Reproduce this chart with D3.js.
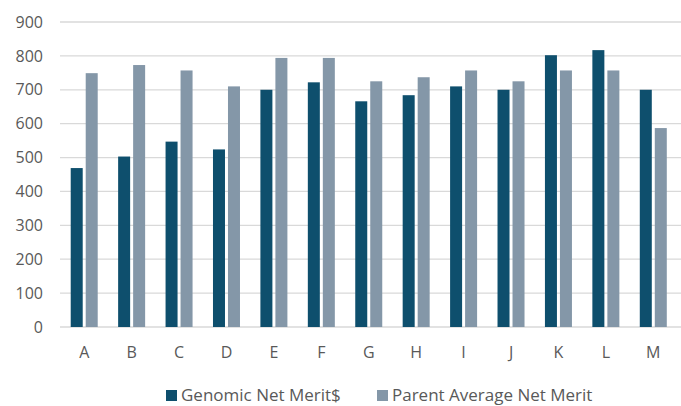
<!DOCTYPE html>
<html>
<head>
<meta charset="utf-8">
<script src="https://cdn.jsdelivr.net/npm/d3@7"></script>
<style>
  body { margin: 0; background: #fff; }
  text { font-family: "Open Sans", "Noto Sans", sans-serif; fill: #595959; }
</style>
</head>
<body>
<div id="chart"></div>
<script>
const categories = ["A", "B", "C", "D", "E", "F", "G", "H", "I", "J", "K", "L", "M"];
const seriesNames = ["Genomic Net Merit$", "Parent Average Net Merit"];
const genomic = [469, 503, 547, 524, 700, 722, 666, 684, 710, 700, 802, 817, 700];
const parentAvg = [749, 773, 757, 710, 794, 794, 725, 737, 757, 725, 757, 757, 587];
const yTicks = [0, 100, 200, 300, 400, 500, 600, 700, 800, 900];
const colors = ["#0e4f6d", "#8497a8"];

const width = 681, height = 406;
const svg = d3.select("#chart").append("svg")
    .attr("width", width)
    .attr("height", height);

// scales
const x = d3.scaleBand().domain(categories).range([60.5, 677]);
const x1 = d3.scaleBand().domain([0, 1]).range([-13.5, 13.5]).paddingInner(0.2);
const y = d3.scaleLinear().domain([0, 900]).range([327, 22]);

// gridlines
svg.append("g")
    .selectAll("line")
    .data(yTicks)
    .enter()
    .append("line")
    .attr("x1", 60)
    .attr("x2", 681)
    .attr("y1", d => y(d))
    .attr("y2", d => y(d))
    .style("stroke", "#d9d9d9")
    .style("stroke-width", 1.3);

// y axis labels
const yAxis = svg.append("g")
    .attr("transform", "translate(43,0)")
    .call(d3.axisLeft(y).tickValues(yTicks).tickSize(0).tickPadding(0));
yAxis.select(".domain").remove();
yAxis.selectAll("text")
    .style("font-size", "16px")
    .style("fill", "#595959")
    .style("font-family", "'Open Sans', sans-serif");

// x axis labels
const xAxis = svg.append("g")
    .attr("transform", "translate(0,347)")
    .call(d3.axisBottom(x).tickSize(0).tickPadding(0));
xAxis.select(".domain").remove();
xAxis.selectAll("text")
    .style("font-size", "16px")
    .style("fill", "#595959")
    .style("font-family", "'Open Sans', sans-serif");

// bars
const series = [genomic, parentAvg];
series.forEach((vals, s) => {
    svg.append("g")
        .selectAll("rect")
        .data(vals)
        .enter()
        .append("rect")
        .attr("x", (d, i) => x(categories[i]) + x.bandwidth() / 2 + x1(s))
        .attr("width", x1.bandwidth())
        .attr("y", d => y(d))
        .attr("height", d => y(0) - y(d))
        .style("fill", colors[s]);
});

// legend
const legendX = [166, 377];
const legend = svg.append("g")
    .selectAll("g")
    .data(seriesNames)
    .enter()
    .append("g")
    .attr("transform", (d, i) => `translate(${legendX[i]},390)`);
legend.append("rect")
    .attr("width", 11)
    .attr("height", 11)
    .style("fill", (d, i) => colors[i]);
legend.append("text")
    .attr("x", 15)
    .attr("y", 11)
    .text(d => d)
    .style("font-size", "17px");
</script>
</body>
</html>
